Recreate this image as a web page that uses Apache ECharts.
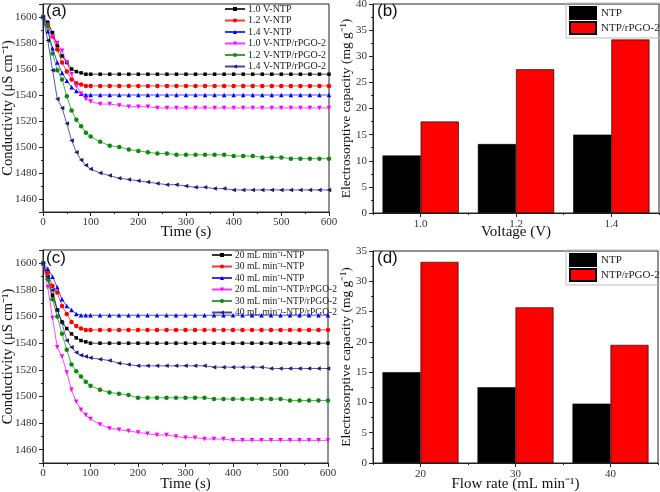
<!DOCTYPE html>
<html>
<head>
<meta charset="utf-8">
<script src="https://cdn.jsdelivr.net/npm/echarts@6/dist/echarts.min.js"></script>
<style>
  html, body { margin: 0; padding: 0; background: #fff; }
  #main { width: 660px; height: 492px; }
</style>
</head>
<body>
<div id="main"></div>
<script>
// 时间点 (s)
const time = [0, 10, 20, 30, 40, 50, 60, 70, 80, 90, 100, 120, 140, 160, 180, 200, 220, 240, 260, 280,
  300, 320, 340, 360, 380, 400, 420, 440, 460, 480, 500, 520, 540, 560, 580, 600];

// (a) 不同电压
const namesA = ['1.0 V-NTP', '1.2 V-NTP', '1.4 V-NTP', '1.0 V-NTP/rPGO-2', '1.2 V-NTP/rPGO-2', '1.4 V-NTP/rPGO-2'];
const v10NTP = [1600, 1596, 1588, 1578, 1570, 1565, 1560, 1558, 1557, 1556, 1556,
  1556, 1556, 1556, 1556, 1556, 1556, 1556, 1556, 1556, 1556, 1556, 1556, 1556, 1556,
  1556, 1556, 1556, 1556, 1556, 1556, 1556, 1556, 1556, 1556, 1556];
const v12NTP = [1600, 1594, 1585, 1575, 1565, 1558, 1552, 1549, 1548, 1547, 1547,
  1547, 1547, 1547, 1547, 1547, 1547, 1547, 1547, 1547, 1547, 1547, 1547, 1547, 1547,
  1547, 1547, 1547, 1547, 1547, 1547, 1547, 1547, 1547, 1547, 1547];
const v14NTP = [1600, 1589, 1576, 1565, 1557, 1551, 1546, 1543, 1541, 1540, 1540,
  1540, 1540, 1540, 1540, 1540, 1540, 1540, 1540, 1540, 1540, 1540, 1540, 1540, 1540,
  1540, 1540, 1540, 1540, 1540, 1540, 1540, 1540, 1540, 1540, 1540];
const v10RGO = [1600, 1593, 1585, 1580, 1574, 1565, 1556, 1547, 1541, 1537, 1535,
  1533, 1533, 1532, 1531, 1531, 1531, 1530, 1530, 1530, 1530, 1530, 1530, 1530, 1530,
  1530, 1530, 1530, 1530, 1530, 1530, 1530, 1530, 1530, 1530, 1530];
const v12RGO = [1600, 1593, 1572, 1559, 1552, 1539, 1528, 1521, 1516, 1511, 1508,
  1504, 1501, 1500, 1498, 1497, 1496, 1495, 1495, 1494, 1494, 1494, 1494, 1494, 1494,
  1493, 1493, 1493, 1492, 1492, 1492, 1491, 1491, 1491, 1491, 1491];
const v14RGO = [1600, 1582, 1559, 1537, 1530, 1518, 1505, 1496, 1490, 1486, 1483,
  1480, 1478, 1476, 1475, 1474, 1473, 1472, 1471, 1471, 1470, 1469, 1469, 1468, 1468,
  1467, 1467, 1467, 1467, 1467, 1467, 1467, 1467, 1467, 1467, 1467];

// (c) 不同流速
const namesC = ['20 mL min⁻¹-NTP', '30 mL min⁻¹-NTP', '40 mL min⁻¹-NTP',
  '20 mL min⁻¹-NTP/rPGO-2', '30 mL min⁻¹-NTP/rPGO-2', '40 mL min⁻¹-NTP/rPGO-2'];
const f20NTP = [1600, 1588, 1576, 1565, 1556, 1551, 1547, 1544, 1542, 1541, 1540,
  1540, 1540, 1540, 1540, 1540, 1540, 1540, 1540, 1540, 1540, 1540, 1540, 1540, 1540,
  1540, 1540, 1540, 1540, 1540, 1540, 1540, 1540, 1540, 1540, 1540];
const f30NTP = [1600, 1593, 1583, 1578, 1568, 1562, 1556, 1553, 1551, 1550, 1550,
  1550, 1550, 1550, 1550, 1550, 1550, 1550, 1550, 1550, 1550, 1550, 1550, 1550, 1550,
  1550, 1550, 1550, 1550, 1550, 1550, 1550, 1550, 1550, 1550, 1550];
const f40NTP = [1600, 1596, 1590, 1582, 1573, 1568, 1565, 1562, 1561, 1561, 1561,
  1561, 1561, 1561, 1561, 1561, 1561, 1561, 1561, 1561, 1561, 1561, 1561, 1561, 1561,
  1561, 1561, 1561, 1561, 1561, 1561, 1561, 1561, 1561, 1561, 1561];
const f20RGO = [1600, 1582, 1559, 1537, 1530, 1518, 1505, 1496, 1490, 1486, 1483,
  1479, 1476, 1475, 1474, 1473, 1472, 1471, 1471, 1470, 1469, 1469, 1468, 1468, 1468,
  1467, 1467, 1467, 1467, 1467, 1467, 1467, 1467, 1467, 1467, 1467];
const f30RGO = [1600, 1588, 1573, 1560, 1547, 1535, 1524, 1519, 1515, 1511, 1508,
  1505, 1503, 1502, 1501, 1499, 1499, 1499, 1499, 1499, 1499, 1499, 1499, 1498, 1498,
  1498, 1498, 1498, 1498, 1498, 1498, 1497, 1497, 1497, 1497, 1497];
const f40RGO = [1600, 1590, 1580, 1565, 1555, 1542, 1537, 1533, 1531, 1530, 1529,
  1528, 1527, 1525, 1524, 1523, 1523, 1523, 1523, 1523, 1523, 1523, 1523, 1522, 1522,
  1522, 1522, 1522, 1522, 1521, 1521, 1521, 1521, 1521, 1521, 1521];

// (b) 电吸附容量 vs 电压
const voltages = ['1.0', '1.2', '1.4'];
const capVoltNTP = [11.0, 13.2, 15.0];
const capVoltRGO = [17.5, 27.5, 33.2];

// (d) 电吸附容量 vs 流速
const flowRates = ['20', '30', '40'];
const capFlowNTP = [15.0, 12.5, 9.8];
const capFlowRGO = [33.2, 25.7, 19.5];

const serif = "'Liberation Serif', 'Times New Roman', serif";
const colors = ['#000000', '#ff0000', '#0000ff', '#ff00ff', '#0a8a0a', '#1a1a80'];
const symbols = ['rect', 'circle', 'triangle', 'triangle', 'circle', 'triangle'];
const rotates = [0, 0, 0, 180, 0, 90];

let myChart = echarts.init(document.getElementById('main'));

function lineSeries(name, vals, i, idx) {
  return {
    type: 'line',
    name: name,
    xAxisIndex: idx,
    yAxisIndex: idx,
    data: time.map((t, k) => [t, vals[k]]),
    symbol: symbols[i],
    symbolRotate: rotates[i],
    symbolSize: i === 0 ? 3.5 : 4.5,
    lineStyle: { width: 0.9, color: colors[i], opacity: 0.8 },
    itemStyle: { color: colors[i] }
  };
}

function barSeries(name, vals, color, idx) {
  return {
    type: 'bar',
    name: name,
    xAxisIndex: idx,
    yAxisIndex: idx,
    data: vals,
    barGap: '0%',
    barCategoryGap: '20%',
    itemStyle: { color: color, borderColor: '#000', borderWidth: 0.6 }
  };
}

const axisLine = { show: true, lineStyle: { color: '#222', width: 1 } };
const labelStyle = { color: '#333', fontFamily: serif, fontSize: 11 };
const nameStyle = { color: '#111', fontFamily: serif, fontSize: 15 };

function timeAxis(grid, gap) {
  return {
    type: 'value', gridIndex: grid, min: 0, max: 600, interval: 100,
    name: 'Time (s)', nameLocation: 'middle', nameGap: gap, nameMoveOverlap: false,
    nameTextStyle: nameStyle,
    axisLine: axisLine,
    axisTick: { show: true, inside: false, length: 4, lineStyle: { color: '#222' } },
    minorTick: { show: true, splitNumber: 2, length: 2, lineStyle: { color: '#222' } },
    axisLabel: Object.assign({ margin: 5 }, labelStyle),
    splitLine: { show: false }
  };
}

function condAxis(grid) {
  return {
    type: 'value', gridIndex: grid, min: 1450, max: 1610, splitNumber: 8,
    name: 'Conductivity (μS cm⁻¹)', nameLocation: 'middle', nameGap: 27, nameMoveOverlap: false,
    nameTextStyle: Object.assign({}, nameStyle, { fontSize: 14.5 }),
    axisLine: axisLine,
    axisTick: { show: true, length: 4, lineStyle: { color: '#222' } },
    minorTick: { show: true, splitNumber: 2, length: 2, lineStyle: { color: '#222' } },
    axisLabel: Object.assign({
      margin: 6, showMinLabel: false, showMaxLabel: false,
      formatter: function (v) { return String(v); }
    }, labelStyle),
    splitLine: { show: false }
  };
}

function catAxis(grid, cats, title, gap) {
  return {
    type: 'category', gridIndex: grid, data: cats,
    name: title, nameLocation: 'middle', nameGap: gap, nameMoveOverlap: false,
    nameTextStyle: Object.assign({}, nameStyle, { fontSize: 15 }),
    axisLine: axisLine,
    axisTick: { show: true, alignWithLabel: true, length: 4, lineStyle: { color: '#222' } },
    axisLabel: Object.assign({ margin: 6 }, labelStyle)
  };
}

// 类目边界上的小刻度
function catMinorAxis(grid, cats) {
  return {
    type: 'category', gridIndex: grid, data: cats, position: 'bottom',
    axisLine: { show: false },
    axisTick: { show: true, length: 2, lineStyle: { color: '#222' } },
    axisLabel: { show: false }
  };
}

function capAxis(grid, max) {
  return {
    type: 'value', gridIndex: grid, min: 0, max: max, interval: 5,
    name: 'Electrosorptive capacity (mg g⁻¹)', nameLocation: 'middle', nameGap: 20, nameMoveOverlap: false,
    nameTextStyle: Object.assign({}, nameStyle, { fontSize: 13.5 }),
    axisLine: axisLine,
    axisTick: { show: true, length: 4, lineStyle: { color: '#222' } },
    minorTick: { show: true, splitNumber: 2, length: 2, lineStyle: { color: '#222' } },
    axisLabel: Object.assign({ margin: 6 }, labelStyle),
    splitLine: { show: false }
  };
}

function lineLegend(names, left, top, size) {
  return {
    data: names, orient: 'vertical', left: left, top: top, padding: 0,
    itemGap: 1.5, itemWidth: 20, itemHeight: 5,
    textStyle: { fontFamily: serif, fontSize: size, color: '#222', padding: [0, 0, 0, -2] }
  };
}

function barLegend(top) {
  return {
    data: ['NTP', 'NTP/rPGO-2'], orient: 'vertical', left: 566, top: top,
    padding: [3, 4, 3, 3], itemGap: 1, itemWidth: 26, itemHeight: 12,
    borderColor: '#bbb', borderWidth: 1, icon: 'rect',
    textStyle: { fontFamily: serif, fontSize: 11, color: '#222' }
  };
}

const gridBox = {
  show: true, borderColor: '#222', borderWidth: 1, backgroundColor: 'transparent',
  outerBoundsMode: 'none', containLabel: false
};
const panelFont = '17px "Liberation Sans", Arial, sans-serif';

option = {
  animation: false,
  backgroundColor: '#fff',
  grid: [
    Object.assign({ left: 43, top: 4, width: 286, height: 208 }, gridBox),
    Object.assign({ left: 373, top: 4, width: 286, height: 209 }, gridBox),
    Object.assign({ left: 43, top: 250, width: 285, height: 213 }, gridBox),
    Object.assign({ left: 373, top: 251, width: 285, height: 212 }, gridBox)
  ],
  xAxis: [
    timeAxis(0, 13),
    catAxis(1, voltages, 'Voltage (V)', 12),
    timeAxis(2, 14),
    catAxis(3, flowRates, 'Flow rate (mL min⁻¹)', 14),
    catMinorAxis(1, voltages),
    catMinorAxis(3, flowRates)
  ],
  yAxis: [
    condAxis(0),
    capAxis(1, 40),
    condAxis(2),
    capAxis(3, 35)
  ],
  legend: [
    lineLegend(namesA, 224, 4, 10),
    barLegend(3),
    lineLegend(namesC, 211, 250, 9.5),
    barLegend(250)
  ],
  graphic: [
    { type: 'text', left: 46, top: 3, style: { text: '(a)', font: panelFont, fill: '#111' } },
    { type: 'text', left: 377, top: 3, style: { text: '(b)', font: panelFont, fill: '#111' } },
    { type: 'text', left: 46, top: 250, style: { text: '(c)', font: panelFont, fill: '#111' } },
    { type: 'text', left: 377, top: 250, style: { text: '(d)', font: panelFont, fill: '#111' } }
  ],
  series: [
    lineSeries(namesA[0], v10NTP, 0, 0),
    lineSeries(namesA[1], v12NTP, 1, 0),
    lineSeries(namesA[2], v14NTP, 2, 0),
    lineSeries(namesA[3], v10RGO, 3, 0),
    lineSeries(namesA[4], v12RGO, 4, 0),
    lineSeries(namesA[5], v14RGO, 5, 0),
    barSeries('NTP', capVoltNTP, '#000000', 1),
    barSeries('NTP/rPGO-2', capVoltRGO, '#ff0000', 1),
    lineSeries(namesC[0], f20NTP, 0, 2),
    lineSeries(namesC[1], f30NTP, 1, 2),
    lineSeries(namesC[2], f40NTP, 2, 2),
    lineSeries(namesC[3], f20RGO, 3, 2),
    lineSeries(namesC[4], f30RGO, 4, 2),
    lineSeries(namesC[5], f40RGO, 5, 2),
    barSeries('NTP', capFlowNTP, '#000000', 3),
    barSeries('NTP/rPGO-2', capFlowRGO, '#ff0000', 3)
  ]
};

myChart.setOption(option);
</script>
</body>
</html>
